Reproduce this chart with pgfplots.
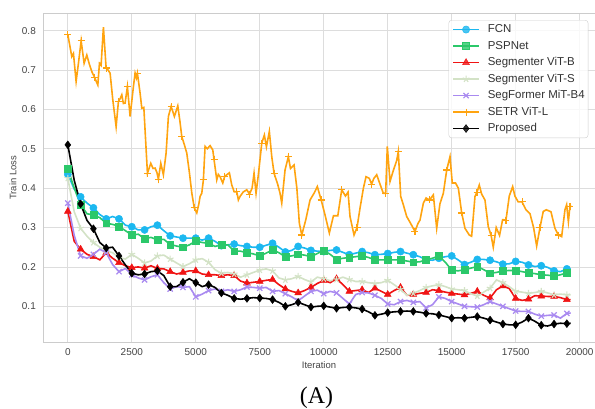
\documentclass[border=0pt]{standalone}
\usepackage{fontspec}
\setmainfont{Liberation Sans}
\newfontfamily\serifA{Liberation Serif}
\usepackage{pgfplots}
\usepackage{pgfplotstable}
\pgfplotsset{compat=1.18}
\definecolor{cfcn}{HTML}{1CB8F0}
\definecolor{cpsp}{HTML}{2BC86A}
\definecolor{cvitb}{HTML}{F01414}
\definecolor{cvits}{HTML}{D3E2C6}
\definecolor{csegf}{HTML}{A98AF0}
\definecolor{csetr}{HTML}{FFA410}
\definecolor{gridc}{HTML}{DDDDDD}
\definecolor{framec}{HTML}{CCCCCC}
\definecolor{tickc}{HTML}{444444}

\pgfplotstableread{
x fcn psp vitb vits segf prop
0 0.435 0.450 0.341 0.425 0.362 0.510
250 0.398 0.400 0.265 0.340 0.280 0.420
500 0.378 0.358 0.245 0.298 0.228 0.360
750 0.362 0.335 0.232 0.278 0.222 0.318
1000 0.350 0.332 0.226 0.262 0.232 0.297
1250 0.333 0.325 0.218 0.250 0.245 0.262
1500 0.322 0.311 0.236 0.241 0.236 0.248
1750 0.328 0.308 0.222 0.236 0.206 0.250
2000 0.322 0.303 0.211 0.224 0.188 0.228
2250 0.306 0.292 0.203 0.220 0.196 0.205
2500 0.302 0.281 0.198 0.232 0.180 0.184
2750 0.294 0.283 0.200 0.222 0.172 0.180
3000 0.294 0.272 0.197 0.210 0.167 0.182
3250 0.302 0.275 0.203 0.215 0.175 0.188
3500 0.306 0.269 0.196 0.228 0.180 0.190
3750 0.292 0.270 0.195 0.230 0.160 0.178
4000 0.279 0.257 0.188 0.220 0.144 0.150
4250 0.276 0.253 0.182 0.210 0.150 0.150
4500 0.273 0.250 0.186 0.201 0.148 0.161
4750 0.273 0.256 0.190 0.208 0.150 0.170
5000 0.273 0.266 0.190 0.218 0.124 0.160
5250 0.268 0.262 0.182 0.221 0.131 0.150
5500 0.273 0.260 0.180 0.212 0.140 0.155
5750 0.265 0.252 0.180 0.193 0.144 0.148
6000 0.254 0.256 0.178 0.184 0.138 0.134
6250 0.256 0.256 0.180 0.186 0.142 0.128
6500 0.258 0.240 0.178 0.182 0.138 0.120
6750 0.254 0.240 0.164 0.174 0.142 0.118
7000 0.252 0.236 0.159 0.180 0.149 0.120
7250 0.250 0.233 0.161 0.186 0.148 0.122
7500 0.250 0.228 0.163 0.192 0.146 0.121
7750 0.255 0.235 0.166 0.195 0.148 0.120
8000 0.260 0.243 0.168 0.190 0.138 0.117
8250 0.250 0.236 0.155 0.172 0.140 0.110
8500 0.238 0.226 0.144 0.167 0.132 0.100
8750 0.242 0.228 0.138 0.170 0.124 0.104
9000 0.252 0.232 0.134 0.176 0.114 0.110
9250 0.248 0.230 0.140 0.168 0.126 0.104
9500 0.242 0.226 0.148 0.162 0.138 0.098
9750 0.240 0.234 0.158 0.174 0.141 0.100
10000 0.239 0.242 0.166 0.170 0.132 0.101
10250 0.242 0.232 0.160 0.165 0.138 0.098
10500 0.243 0.219 0.170 0.168 0.134 0.095
10750 0.237 0.222 0.155 0.174 0.120 0.097
11000 0.231 0.224 0.138 0.168 0.106 0.098
11250 0.235 0.226 0.140 0.163 0.130 0.096
11500 0.239 0.228 0.142 0.163 0.135 0.093
11750 0.236 0.224 0.135 0.160 0.134 0.086
12000 0.231 0.218 0.146 0.158 0.128 0.077
12250 0.232 0.218 0.138 0.160 0.120 0.080
12500 0.234 0.218 0.130 0.166 0.106 0.084
12750 0.237 0.218 0.140 0.155 0.104 0.086
13000 0.239 0.218 0.148 0.143 0.112 0.087
13250 0.235 0.215 0.128 0.128 0.115 0.088
13500 0.231 0.212 0.130 0.133 0.110 0.087
13750 0.226 0.213 0.133 0.140 0.112 0.085
14000 0.218 0.218 0.135 0.148 0.096 0.082
14250 0.217 0.222 0.142 0.152 0.104 0.081
14500 0.222 0.228 0.140 0.155 0.124 0.078
14750 0.226 0.212 0.136 0.150 0.120 0.074
15000 0.228 0.192 0.133 0.144 0.112 0.070
15250 0.218 0.190 0.131 0.142 0.106 0.071
15500 0.206 0.193 0.129 0.140 0.100 0.070
15750 0.212 0.197 0.133 0.132 0.099 0.072
16000 0.219 0.201 0.138 0.126 0.098 0.074
16250 0.219 0.193 0.128 0.136 0.104 0.070
16500 0.217 0.184 0.121 0.146 0.112 0.065
16750 0.213 0.186 0.142 0.167 0.106 0.060
17000 0.207 0.190 0.152 0.160 0.100 0.055
17250 0.208 0.191 0.145 0.150 0.094 0.053
17500 0.214 0.191 0.120 0.138 0.088 0.053
17750 0.212 0.188 0.115 0.136 0.087 0.060
18000 0.205 0.185 0.118 0.133 0.087 0.070
18250 0.201 0.183 0.127 0.135 0.080 0.062
18500 0.203 0.180 0.126 0.138 0.075 0.052
18750 0.199 0.179 0.125 0.134 0.077 0.050
19000 0.190 0.177 0.125 0.129 0.078 0.055
19250 0.188 0.180 0.122 0.131 0.070 0.057
19500 0.195 0.185 0.117 0.129 0.082 0.056
19650 0.195 0.186 0.117 0.129 0.083 0.057
}\losstab

\pgfplotstableread{
x y
0 0.790
155 0.734
220 0.742
324 0.671
415 0.717
520 0.774
637 0.717
742 0.738
840 0.715
937 0.696
1040 0.682
1172 0.662
1236 0.717
1300 0.712
1391 0.809
1496 0.705
1570 0.700
1652 0.692
1758 0.624
1887 0.556
1977 0.620
2050 0.628
2109 0.637
2170 0.615
2238 0.616
2328 0.658
2434 0.582
2563 0.658
2629 0.692
2680 0.680
2719 0.692
2824 0.641
2891 0.603
2970 0.605
3059 0.499
3111 0.438
3242 0.463
3330 0.450
3410 0.451
3480 0.440
3539 0.423
3633 0.463
3734 0.434
3840 0.489
3930 0.582
4035 0.607
4100 0.595
4164 0.582
4297 0.609
4380 0.570
4453 0.531
4555 0.510
4648 0.489
4750 0.440
4844 0.388
4940 0.350
5039 0.337
5120 0.360
5168 0.379
5234 0.387
5297 0.421
5363 0.506
5450 0.500
5559 0.508
5664 0.497
5715 0.472
5820 0.421
5880 0.435
5949 0.429
6055 0.413
6130 0.430
6211 0.434
6313 0.439
6406 0.408
6500 0.391
6602 0.391
6664 0.370
6730 0.379
6850 0.390
6992 0.396
7100 0.385
7200 0.400
7277 0.438
7355 0.387
7445 0.434
7578 0.514
7680 0.535
7760 0.505
7875 0.544
7969 0.480
8059 0.438
8200 0.410
8293 0.387
8359 0.362
8488 0.446
8617 0.480
8700 0.450
8840 0.459
8950 0.400
9047 0.311
9141 0.281
9300 0.320
9465 0.370
9621 0.387
9750 0.404
9900 0.370
10051 0.332
10219 0.286
10380 0.330
10550 0.330
10703 0.396
10850 0.380
10950 0.390
11027 0.328
11184 0.281
11300 0.300
11420 0.350
11550 0.400
11652 0.429
11780 0.425
11870 0.410
11960 0.425
12070 0.434
12200 0.410
12328 0.387
12420 0.387
12484 0.506
12590 0.417
12720 0.445
12850 0.470
12914 0.493
13008 0.379
13100 0.360
13242 0.328
13400 0.310
13566 0.290
13680 0.310
13762 0.319
13893 0.362
14000 0.375
14130 0.370
14283 0.383
14414 0.298
14540 0.360
14673 0.387
14805 0.446
14934 0.480
15023 0.413
15150 0.413
15260 0.400
15391 0.337
15520 0.298
15687 0.281
15780 0.278
15910 0.379
15990 0.390
16078 0.408
16170 0.385
16300 0.370
16430 0.302
16540 0.280
16625 0.250
16740 0.300
16870 0.280
16990 0.320
17121 0.319
17250 0.380
17383 0.404
17470 0.380
17600 0.365
17750 0.365
17902 0.345
18060 0.335
18200 0.300
18320 0.253
18450 0.300
18578 0.341
18700 0.345
18880 0.340
19035 0.298
19170 0.281
19297 0.277
19426 0.345
19492 0.358
19560 0.315
19621 0.354
19680 0.354
}\setrtab

\begin{document}
\begin{tikzpicture}
\useasboundingbox (0,0) rectangle (595bp,409bp);
\begin{axis}[
  at={(43bp,66.7bp)}, anchor=south west,
  width=552bp, height=329bp, scale only axis,
  xmin=-970, xmax=20600, ymin=0.0086, ymax=0.844,
  xtick={0,2500,...,20000},
  ytick={0.1,0.2,0.3,0.4,0.5,0.6,0.7,0.8},
  scaled x ticks=false,
  /pgf/number format/assume math mode=true,
  /pgf/number format/1000 sep={},
  yticklabel style={/pgf/number format/fixed,/pgf/number format/precision=1,/pgf/number format/fixed zerofill},
  tick label style={font=\fontsize{10}{11}\selectfont, text=tickc},
  xticklabel style={inner sep=0pt, anchor=north, yshift=-6.5bp},
  yticklabel style={inner sep=0pt, anchor=east, xshift=-7bp},
  major tick length=0pt,
  tick style={draw=none},
  grid=major,
  major grid style={draw=gridc, line width=0.8bp},
  axis line style={draw=framec, line width=0.8bp},
  xlabel={Iteration}, ylabel={Train Loss},
  label style={font=\fontsize{9.5}{11}\selectfont, text=tickc},
  xlabel style={at={(axis description cs:0.5,-0.069)}, anchor=center},
  ylabel style={at={(axis description cs:-0.0543,0.5)}, anchor=center},
  legend cell align=left,
  legend image code/.code={\draw[#1, sharp corners, mark repeat=2, mark phase=2] plot coordinates {(0bp,0bp) (13bp,0bp) (26bp,0bp)};},
  legend style={at={(axis description cs:0.9879,0.9796)}, anchor=north east,
    draw=framec, rounded corners=3bp, fill=white, fill opacity=0.8, text opacity=1,
    font=\fontsize{11.5}{13}\selectfont, text=black!80,
    inner xsep=3.5bp, inner ysep=4bp, row sep=5.8bp,
    nodes={inner sep=0pt, text height=8.3bp, text depth=2.4bp},
    /tikz/every odd column/.append style={column sep=8bp}},
  every axis plot/.append style={line width=1.6bp},
]
\addplot[color=cfcn, mark=*, mark size=3.6bp, mark repeat=2, mark options={solid, fill=cfcn, draw=cfcn, line width=0.5bp}] table[x=x, y=fcn]{\losstab};
\addlegendentry{FCN}
\addplot[color=cpsp, mark=square*, mark size=3.4bp, mark repeat=2, mark options={solid, fill=cpsp, draw=cpsp, line width=0.5bp}] table[x=x, y=psp]{\losstab};
\addlegendentry{PSPNet}
\addplot[color=cvitb, mark=triangle*, mark size=3.9bp, mark repeat=2, mark options={solid, fill=cvitb, draw=cvitb, line width=0.5bp}] table[x=x, y=vitb]{\losstab};
\addlegendentry{Segmenter ViT-B}
\addplot[color=cvits, mark=star, mark size=3.5bp, mark repeat=2, mark options={solid, draw=cvits, line width=1.1bp}] table[x=x, y=vits]{\losstab};
\addlegendentry{Segmenter ViT-S}
\addplot[color=csegf, mark=x, mark size=3.7bp, mark repeat=2, mark options={solid, draw=csegf, line width=1.2bp}] table[x=x, y=segf]{\losstab};
\addlegendentry{SegFormer MiT-B4}
\addplot[color=csetr, mark=+, mark size=3.5bp, mark repeat=5, mark options={solid, draw=csetr, line width=1.1bp}] table[x=x, y=y]{\setrtab};
\addlegendentry{SETR ViT-L}
\addplot[color=black, mark=diamond*, mark size=3.9bp, mark repeat=2, mark options={solid, fill=black, draw=black, line width=0.5bp}] table[x=x, y=prop]{\losstab};
\addlegendentry{Proposed}
\end{axis}
\node[font=\serifA\fontsize{24}{24}\selectfont, anchor=base, inner sep=0pt] at (316.5bp,6bp) {(A)};
\end{tikzpicture}
\end{document}
